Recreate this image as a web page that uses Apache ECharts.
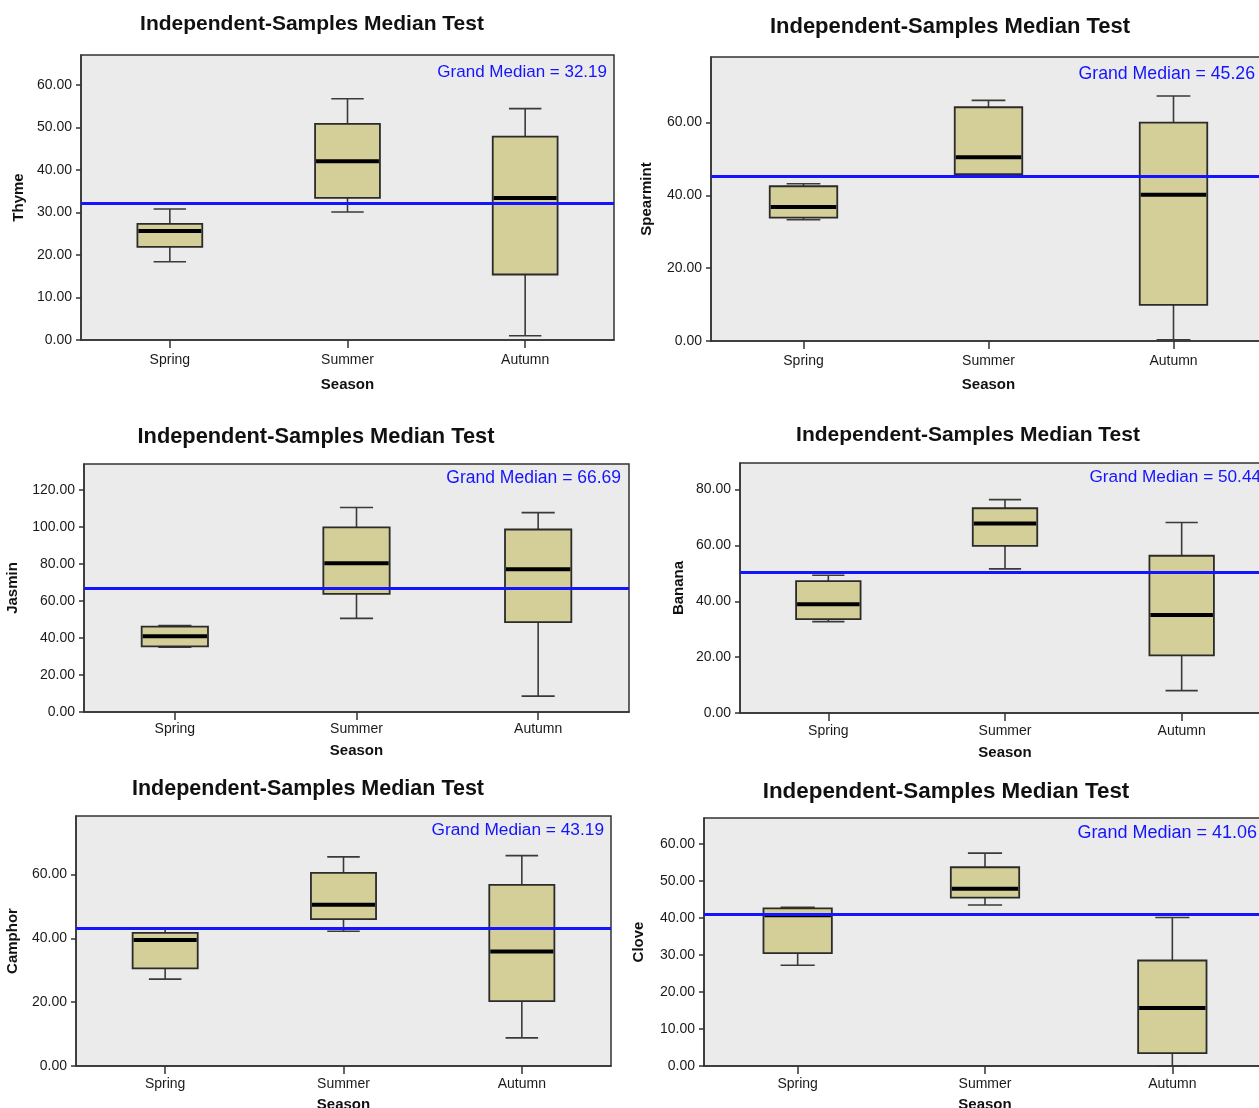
<!DOCTYPE html>
<html>
<head>
<meta charset="utf-8">
<script src="https://cdn.jsdelivr.net/npm/echarts@6/dist/echarts.min.js"></script>
<style>
html,body{margin:0;padding:0;background:#fff;}
#chart{width:1259px;height:1108px;}
</style>
</head>
<body>
<div id="chart"></div>
<script>
// ---------------- DATA ----------------
const seasons = ['Spring', 'Summer', 'Autumn'];
// each row: [lower whisker, Q1, median, Q3, upper whisker] for Spring, Summer, Autumn
const thyme     = [[18.4, 21.9, 25.6, 27.3, 30.8], [30.1, 33.4, 42.0, 50.8, 56.7], [1.0, 15.4, 33.4, 47.8, 54.4]];
const spearmint = [[33.3, 33.9, 36.8, 42.5, 43.2], [45.6, 45.8, 50.5, 64.2, 66.1], [0.3, 9.9, 40.2, 60.0, 67.3]];
const jasmin    = [[35.0, 35.5, 40.9, 46.1, 46.7], [50.6, 63.8, 80.4, 99.8, 110.5], [8.6, 48.6, 77.1, 98.6, 107.7]];
const banana    = [[32.7, 33.6, 38.9, 47.2, 49.3], [51.6, 59.8, 67.8, 73.3, 76.4], [8.0, 20.6, 35.1, 56.3, 68.2]];
const camphor   = [[27.2, 30.6, 39.5, 41.7, 43.0], [42.2, 46.0, 50.5, 60.5, 65.5], [8.8, 20.3, 35.9, 56.7, 65.9]];
const clove     = [[27.2, 30.5, 40.7, 42.6, 42.9], [43.5, 45.5, 47.9, 53.7, 57.5], [0.0, 3.5, 15.7, 28.5, 40.1]];
const grandMedians = [32.19, 45.26, 66.69, 50.44, 43.19, 41.06];
const variableNames = ['Thyme', 'Spearmint', 'Jasmin', 'Banana', 'Camphor', 'Clove'];
const thymeTicks     = [0, 10, 20, 30, 40, 50, 60];
const spearmintTicks = [0, 20, 40, 60];
const jasminTicks    = [0, 20, 40, 60, 80, 100, 120];
const bananaTicks    = [0, 20, 40, 60, 80];
const camphorTicks   = [0, 20, 40, 60];
const cloveTicks     = [0, 10, 20, 30, 40, 50, 60];
const yMaxes = [67, 78, 134, 89.5, 78.3, 67];
const chartTitle = 'Independent-Samples Median Test';
const xAxisTitle = 'Season';

const allStats = [thyme, spearmint, jasmin, banana, camphor, clove];
const allTicks = [thymeTicks, spearmintTicks, jasminTicks, bananaTicks, camphorTicks, cloveTicks];

// ---------------- LAYOUT ----------------
const panels = [
  {left: 81,  top: 55,  width: 533, height: 285, tx: 312, ty: 24,  ts: 21, gx: 607,  gy: 72,  gs: 17,   yGap: 55, xlm: 13, xGap: 37},
  {left: 711, top: 57,  width: 555, height: 284, tx: 950, ty: 27,  ts: 22, gx: 1255, gy: 74,  gs: 17.7, yGap: 57, xlm: 13, xGap: 36},
  {left: 84,  top: 464, width: 545, height: 248, tx: 316, ty: 437, ts: 21.8, gx: 621, gy: 478, gs: 17.5, yGap: 64, xlm: 10, xGap: 31},
  {left: 740, top: 463, width: 530, height: 250, tx: 968, ty: 435, ts: 21, gx: 1261, gy: 477, gs: 17.2, yGap: 54, xlm: 11, xGap: 32},
  {left: 76,  top: 816, width: 535, height: 250, tx: 308, ty: 789, ts: 21.5, gx: 604, gy: 830, gs: 17.3, yGap: 56, xlm: 11, xGap: 31},
  {left: 704, top: 818, width: 562, height: 248, tx: 946, ty: 792, ts: 22.4, gx: 1257, gy: 833, gs: 18, yGap: 58, xlm: 11, xGap: 31}
];

const FONT = '"Liberation Sans", Arial, sans-serif';
const BOX_FILL = '#D4CF99';
const BLUE = '#1414FF';

const grids = [], xAxes = [], yAxes = [], series = [], graphics = [];

panels.forEach(function (p, i) {
  grids.push({
    left: p.left, top: p.top, width: p.width, height: p.height,
    show: true, backgroundColor: '#EBEBEB', borderColor: '#333', borderWidth: 1.5,
    containLabel: false, outerBoundsMode: 'none'
  });
  xAxes.push({
    type: 'category', gridIndex: i, data: seasons, boundaryGap: true,
    name: xAxisTitle, nameLocation: 'middle', nameGap: p.xGap,
    nameTextStyle: {fontFamily: FONT, fontWeight: 'bold', fontSize: 15, color: '#111'},
    axisLine: {show: true, lineStyle: {color: '#333', width: 1.5}},
    axisTick: {show: true, alignWithLabel: true, length: 8, lineStyle: {color: '#333', width: 1.5}},
    axisLabel: {fontFamily: FONT, fontSize: 14, color: '#1a1a1a', margin: p.xlm},
    splitLine: {show: false}
  });
  yAxes.push({
    type: 'value', gridIndex: i, min: 0, max: yMaxes[i],
    name: variableNames[i], nameLocation: 'middle', nameGap: p.yGap,
    nameTextStyle: {fontFamily: FONT, fontWeight: 'bold', fontSize: 15, color: '#111'},
    axisLine: {show: true, lineStyle: {color: '#333', width: 1.5}},
    axisTick: {show: true, length: 5, customValues: allTicks[i], lineStyle: {color: '#333', width: 1.5}},
    axisLabel: {
      fontFamily: FONT, fontSize: 14, color: '#1a1a1a', margin: 9,
      customValues: allTicks[i],
      formatter: function (v) { return Number(v).toFixed(2); }
    },
    splitLine: {show: false}
  });

  const data = allStats[i].map(function (s, k) { return [k].concat(s); });
  series.push({
    type: 'custom', xAxisIndex: i, yAxisIndex: i, z: 2,
    encode: {x: 0, y: [1, 2, 3, 4, 5]},
    data: data,
    renderItem: function (params, api) {
      const k = api.value(0);
      const pLow = api.coord([k, api.value(1)]);
      const pQ1 = api.coord([k, api.value(2)]);
      const pMed = api.coord([k, api.value(3)]);
      const pQ3 = api.coord([k, api.value(4)]);
      const pHigh = api.coord([k, api.value(5)]);
      const band = api.size([1, 0])[0];
      const bw = band * 0.365;
      const cw = bw * 0.5;
      const cx = pLow[0];
      const ws = {stroke: '#3a3a3a', lineWidth: 1.6};
      return {
        type: 'group',
        children: [
          {type: 'line', shape: {x1: cx, y1: pLow[1], x2: cx, y2: pQ1[1]}, style: ws},
          {type: 'line', shape: {x1: cx, y1: pQ3[1], x2: cx, y2: pHigh[1]}, style: ws},
          {type: 'line', shape: {x1: cx - cw / 2, y1: pLow[1], x2: cx + cw / 2, y2: pLow[1]}, style: ws},
          {type: 'line', shape: {x1: cx - cw / 2, y1: pHigh[1], x2: cx + cw / 2, y2: pHigh[1]}, style: ws},
          {type: 'rect', shape: {x: cx - bw / 2, y: pQ3[1], width: bw, height: pQ1[1] - pQ3[1]},
            style: {fill: BOX_FILL, stroke: '#2b2b2b', lineWidth: 1.8}},
          {type: 'line', shape: {x1: cx - bw / 2 + 1, y1: pMed[1], x2: cx + bw / 2 - 1, y2: pMed[1]},
            style: {stroke: '#000', lineWidth: 4}}
        ]
      };
    }
  });
  series.push({
    type: 'line', xAxisIndex: i, yAxisIndex: i, z: 5, data: [],
    silent: true,
    markLine: {
      silent: true, symbol: ['none', 'none'], animation: false,
      label: {show: false},
      lineStyle: {color: BLUE, width: 3, type: 'solid'},
      data: [{yAxis: grandMedians[i]}]
    }
  });

  graphics.push({
    type: 'text', x: p.tx, y: p.ty, z: 10,
    style: {text: chartTitle, font: 'bold ' + p.ts + 'px ' + FONT, fill: '#111',
      textAlign: 'center', textVerticalAlign: 'middle'}
  });
  graphics.push({
    type: 'text', x: p.gx, y: p.gy, z: 10,
    style: {text: 'Grand Median = ' + grandMedians[i].toFixed(2), font: p.gs + 'px ' + FONT, fill: BLUE,
      textAlign: 'right', textVerticalAlign: 'middle'}
  });
});

const chart = echarts.init(document.getElementById('chart'), null, {renderer: 'canvas'});
chart.setOption({
  animation: false,
  backgroundColor: '#ffffff',
  grid: grids,
  xAxis: xAxes,
  yAxis: yAxes,
  series: series,
  graphic: graphics
});
</script>
</body>
</html>
